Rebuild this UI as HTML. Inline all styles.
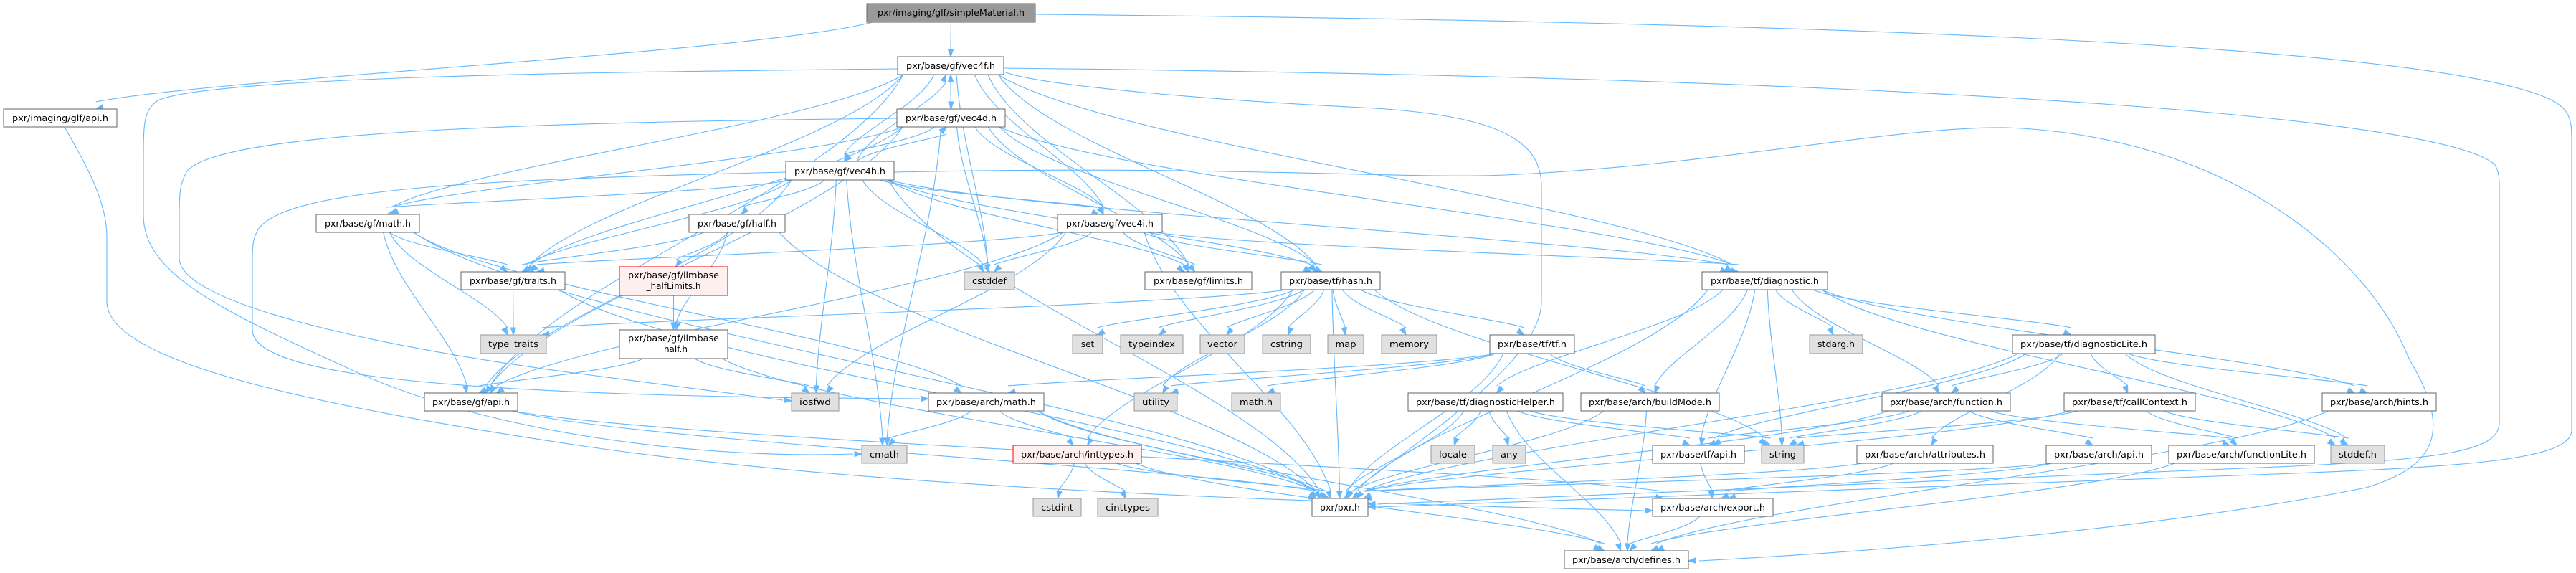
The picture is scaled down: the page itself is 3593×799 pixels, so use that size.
<!DOCTYPE html>
<html><head><meta charset="utf-8"><style>
html,body{margin:0;padding:0;background:#fff;width:3593px;height:799px;overflow:hidden}
svg{display:block}
text{font-family:"DejaVu Sans","Liberation Sans",sans-serif;font-size:12px;fill:#000}
</style></head><body>
<svg id="g" width="3593" height="799" viewBox="0 0 3593 799" xmlns="http://www.w3.org/2000/svg">
<g id="edges" fill="none" stroke="#63b8ff" stroke-width="1.1"></g>
<g id="arrows" fill="#63b8ff" stroke="#63b8ff" stroke-width="1"></g>
<g id="nodes">
<rect x="1209" y="5" width="235" height="26" fill="#999" stroke="#666"/><text x="1326.5" y="22" text-anchor="middle" textLength="205" lengthAdjust="spacingAndGlyphs">pxr/imaging/glf/simpleMaterial.h</text>
<rect x="5" y="152" width="158" height="25" fill="#fff" stroke="#666"/><text x="84" y="169" text-anchor="middle" textLength="134" lengthAdjust="spacingAndGlyphs">pxr/imaging/glf/api.h</text>
<rect x="1252" y="79" width="148" height="25" fill="#fff" stroke="#666"/><text x="1326" y="96" text-anchor="middle" textLength="124" lengthAdjust="spacingAndGlyphs">pxr/base/gf/vec4f.h</text>
<rect x="1251" y="152" width="151" height="25" fill="#fff" stroke="#666"/><text x="1326.5" y="169" text-anchor="middle" textLength="127" lengthAdjust="spacingAndGlyphs">pxr/base/gf/vec4d.h</text>
<rect x="1096" y="225" width="151" height="26" fill="#fff" stroke="#666"/><text x="1171.5" y="243" text-anchor="middle" textLength="127" lengthAdjust="spacingAndGlyphs">pxr/base/gf/vec4h.h</text>
<rect x="441" y="299" width="144" height="25" fill="#fff" stroke="#666"/><text x="513" y="316" text-anchor="middle" textLength="120" lengthAdjust="spacingAndGlyphs">pxr/base/gf/math.h</text>
<rect x="961" y="299" width="134" height="25" fill="#fff" stroke="#666"/><text x="1028" y="316" text-anchor="middle" textLength="110" lengthAdjust="spacingAndGlyphs">pxr/base/gf/half.h</text>
<rect x="1475" y="299" width="146" height="25" fill="#fff" stroke="#666"/><text x="1548" y="316" text-anchor="middle" textLength="122" lengthAdjust="spacingAndGlyphs">pxr/base/gf/vec4i.h</text>
<rect x="2374" y="379" width="175" height="25" fill="#fff" stroke="#666"/><text x="2461.5" y="396" text-anchor="middle" textLength="151" lengthAdjust="spacingAndGlyphs">pxr/base/tf/diagnostic.h</text>
<rect x="643" y="379" width="145" height="25" fill="#fff" stroke="#666"/><text x="715.5" y="396" text-anchor="middle" textLength="121" lengthAdjust="spacingAndGlyphs">pxr/base/gf/traits.h</text>
<rect x="864" y="372" width="151" height="40" fill="#fff0f0" stroke="#f00"/><text x="939.5" y="388" text-anchor="middle" textLength="127" lengthAdjust="spacingAndGlyphs">pxr/base/gf/ilmbase</text><text x="939.5" y="403" text-anchor="middle">_halfLimits.h</text>
<rect x="1345" y="379" width="70" height="25" fill="#e0e0e0" stroke="#999"/><text x="1380" y="396" text-anchor="middle" textLength="48" lengthAdjust="spacingAndGlyphs">cstddef</text>
<rect x="1597" y="379" width="149" height="25" fill="#fff" stroke="#666"/><text x="1671.5" y="396" text-anchor="middle" textLength="125" lengthAdjust="spacingAndGlyphs">pxr/base/gf/limits.h</text>
<rect x="1787" y="379" width="138" height="25" fill="#fff" stroke="#666"/><text x="1856" y="396" text-anchor="middle" textLength="116" lengthAdjust="spacingAndGlyphs">pxr/base/tf/hash.h</text>
<rect x="670" y="467" width="92" height="26" fill="#e0e0e0" stroke="#999"/><text x="716" y="484" text-anchor="middle" textLength="70" lengthAdjust="spacingAndGlyphs">type_traits</text>
<rect x="864" y="460" width="151" height="40" fill="#fff" stroke="#666"/><text x="939.5" y="476" text-anchor="middle" textLength="127" lengthAdjust="spacingAndGlyphs">pxr/base/gf/ilmbase</text><text x="939.5" y="491" text-anchor="middle">_half.h</text>
<rect x="1496" y="467" width="42" height="26" fill="#e0e0e0" stroke="#999"/><text x="1517" y="484" text-anchor="middle">set</text>
<rect x="1563" y="467" width="87" height="26" fill="#e0e0e0" stroke="#999"/><text x="1606.5" y="484" text-anchor="middle" textLength="65" lengthAdjust="spacingAndGlyphs">typeindex</text>
<rect x="1674" y="467" width="62" height="26" fill="#e0e0e0" stroke="#999"/><text x="1705" y="484" text-anchor="middle" textLength="42" lengthAdjust="spacingAndGlyphs">vector</text>
<rect x="1761" y="467" width="67" height="26" fill="#e0e0e0" stroke="#999"/><text x="1794.5" y="484" text-anchor="middle" textLength="45" lengthAdjust="spacingAndGlyphs">cstring</text>
<rect x="1852" y="467" width="50" height="26" fill="#e0e0e0" stroke="#999"/><text x="1877" y="484" text-anchor="middle" textLength="29" lengthAdjust="spacingAndGlyphs">map</text>
<rect x="1927" y="467" width="77" height="26" fill="#e0e0e0" stroke="#999"/><text x="1965.5" y="484" text-anchor="middle" textLength="55" lengthAdjust="spacingAndGlyphs">memory</text>
<rect x="2078" y="467" width="118" height="26" fill="#fff" stroke="#666"/><text x="2137" y="484" text-anchor="middle" textLength="96" lengthAdjust="spacingAndGlyphs">pxr/base/tf/tf.h</text>
<rect x="2524" y="467" width="74" height="26" fill="#e0e0e0" stroke="#999"/><text x="2561" y="484" text-anchor="middle" textLength="52" lengthAdjust="spacingAndGlyphs">stdarg.h</text>
<rect x="2807" y="467" width="199" height="26" fill="#fff" stroke="#666"/><text x="2906.5" y="484" text-anchor="middle" textLength="177" lengthAdjust="spacingAndGlyphs">pxr/base/tf/diagnosticLite.h</text>
<rect x="592" y="548" width="130" height="25" fill="#fff" stroke="#666"/><text x="657" y="565" text-anchor="middle" textLength="108" lengthAdjust="spacingAndGlyphs">pxr/base/gf/api.h</text>
<rect x="1104" y="548" width="66" height="25" fill="#e0e0e0" stroke="#999"/><text x="1137" y="565" text-anchor="middle" textLength="44" lengthAdjust="spacingAndGlyphs">iosfwd</text>
<rect x="1295" y="548" width="161" height="25" fill="#fff" stroke="#666"/><text x="1375.5" y="565" text-anchor="middle" textLength="139" lengthAdjust="spacingAndGlyphs">pxr/base/arch/math.h</text>
<rect x="1582" y="548" width="60" height="25" fill="#e0e0e0" stroke="#999"/><text x="1612" y="565" text-anchor="middle" textLength="38" lengthAdjust="spacingAndGlyphs">utility</text>
<rect x="1718" y="548" width="68" height="25" fill="#e0e0e0" stroke="#999"/><text x="1752" y="565" text-anchor="middle" textLength="46" lengthAdjust="spacingAndGlyphs">math.h</text>
<rect x="1964" y="548" width="216" height="25" fill="#fff" stroke="#666"/><text x="2072" y="565" text-anchor="middle" textLength="194" lengthAdjust="spacingAndGlyphs">pxr/base/tf/diagnosticHelper.h</text>
<rect x="2205" y="548" width="193" height="25" fill="#fff" stroke="#666"/><text x="2301.5" y="565" text-anchor="middle" textLength="171" lengthAdjust="spacingAndGlyphs">pxr/base/arch/buildMode.h</text>
<rect x="2625" y="548" width="179" height="25" fill="#fff" stroke="#666"/><text x="2714.5" y="565" text-anchor="middle" textLength="157" lengthAdjust="spacingAndGlyphs">pxr/base/arch/function.h</text>
<rect x="2879" y="548" width="183" height="25" fill="#fff" stroke="#666"/><text x="2970.5" y="565" text-anchor="middle" textLength="161" lengthAdjust="spacingAndGlyphs">pxr/base/tf/callContext.h</text>
<rect x="3239" y="548" width="159" height="25" fill="#fff" stroke="#666"/><text x="3318.5" y="565" text-anchor="middle" textLength="137" lengthAdjust="spacingAndGlyphs">pxr/base/arch/hints.h</text>
<rect x="1202" y="621" width="63" height="25" fill="#e0e0e0" stroke="#999"/><text x="1233.5" y="638" text-anchor="middle" textLength="41" lengthAdjust="spacingAndGlyphs">cmath</text>
<rect x="1413" y="621" width="179" height="25" fill="#fff0f0" stroke="#f00"/><text x="1502.5" y="638" text-anchor="middle" textLength="157" lengthAdjust="spacingAndGlyphs">pxr/base/arch/inttypes.h</text>
<rect x="1996" y="621" width="61" height="25" fill="#e0e0e0" stroke="#999"/><text x="2026.5" y="638" text-anchor="middle" textLength="39" lengthAdjust="spacingAndGlyphs">locale</text>
<rect x="2082" y="621" width="46" height="25" fill="#e0e0e0" stroke="#999"/><text x="2105" y="638" text-anchor="middle" textLength="24" lengthAdjust="spacingAndGlyphs">any</text>
<rect x="2305" y="621" width="128" height="25" fill="#fff" stroke="#666"/><text x="2369" y="638" text-anchor="middle" textLength="106" lengthAdjust="spacingAndGlyphs">pxr/base/tf/api.h</text>
<rect x="2457" y="621" width="59" height="25" fill="#e0e0e0" stroke="#999"/><text x="2486.5" y="638" text-anchor="middle" textLength="37" lengthAdjust="spacingAndGlyphs">string</text>
<rect x="2590" y="621" width="190" height="25" fill="#fff" stroke="#666"/><text x="2685" y="638" text-anchor="middle" textLength="168" lengthAdjust="spacingAndGlyphs">pxr/base/arch/attributes.h</text>
<rect x="2854" y="621" width="147" height="25" fill="#fff" stroke="#666"/><text x="2927.5" y="638" text-anchor="middle" textLength="125" lengthAdjust="spacingAndGlyphs">pxr/base/arch/api.h</text>
<rect x="3025" y="621" width="203" height="25" fill="#fff" stroke="#666"/><text x="3126.5" y="638" text-anchor="middle" textLength="181" lengthAdjust="spacingAndGlyphs">pxr/base/arch/functionLite.h</text>
<rect x="3251" y="621" width="75" height="25" fill="#e0e0e0" stroke="#999"/><text x="3288.5" y="638" text-anchor="middle" textLength="53" lengthAdjust="spacingAndGlyphs">stddef.h</text>
<rect x="1441" y="695" width="67" height="25" fill="#e0e0e0" stroke="#999"/><text x="1474.5" y="712" text-anchor="middle" textLength="45" lengthAdjust="spacingAndGlyphs">cstdint</text>
<rect x="1531" y="695" width="84" height="25" fill="#e0e0e0" stroke="#999"/><text x="1573" y="712" text-anchor="middle" textLength="62" lengthAdjust="spacingAndGlyphs">cinttypes</text>
<rect x="1830" y="695" width="78" height="25" fill="#fff" stroke="#666"/><text x="1869" y="712" text-anchor="middle" textLength="56" lengthAdjust="spacingAndGlyphs">pxr/pxr.h</text>
<rect x="2305" y="695" width="168" height="25" fill="#fff" stroke="#666"/><text x="2389" y="712" text-anchor="middle" textLength="146" lengthAdjust="spacingAndGlyphs">pxr/base/arch/export.h</text>
<rect x="2182" y="768" width="173" height="25" fill="#fff" stroke="#666"/><text x="2268.5" y="785" text-anchor="middle" textLength="151" lengthAdjust="spacingAndGlyphs">pxr/base/arch/defines.h</text>
</g>
</svg>
<script>
var N={A:[1209,1444,5,26],B:[5,163,152,25],C:[1252,1400,79,25],D:[1251,1402,152,25],E:[1096,1247,225,26],F:[441,585,299,25],G:[961,1095,299,25],H:[1475,1621,299,25],I:[2374,2549,379,25],J:[643,788,379,25],K:[864,1015,372,40],L:[1345,1415,379,25],M:[1597,1746,379,25],Nh:[1787,1925,379,25],O:[670,762,467,26],P:[864,1015,460,40],Q:[1496,1538,467,26],R:[1563,1650,467,26],S:[1674,1736,467,26],T:[1761,1828,467,26],U:[1852,1902,467,26],V:[1927,2004,467,26],W:[2078,2196,467,26],X:[2524,2598,467,26],Y:[2807,3006,467,26],Z:[592,722,548,25],a:[1104,1170,548,25],b:[1295,1456,548,25],c:[1582,1642,548,25],d:[1718,1786,548,25],e:[1964,2180,548,25],f:[2205,2398,548,25],g:[2625,2804,548,25],h:[2879,3062,548,25],i:[3239,3398,548,25],j:[1202,1265,621,25],k:[1413,1592,621,25],l:[1996,2057,621,25],m:[2082,2128,621,25],n:[2305,2433,621,25],o:[2457,2516,621,25],p:[2590,2780,621,25],q:[2854,3001,621,25],r:[3025,3228,621,25],s:[3251,3326,621,25],t:[1441,1508,695,25],u:[1531,1615,695,25],v:[1830,1908,695,25],w:[2305,2473,695,25],x:[2182,2355,768,25]};
var E=[["A","B"],["A","C"],
["C","D"],["C","E"],["C","F"],["C","J"],["C","Z"],["C","L"],["C","M"],["C","Nh"],["C","I"],["C","H"],
["D","C"],["D","E"],["D","F"],["D","J"],["D","Z"],["D","L"],["D","M"],["D","Nh"],["D","I"],["D","H"],["D","j"],
["E","C"],["E","D"],["E","F"],["E","G"],["E","J"],["E","Z"],["E","L"],["E","M"],["E","Nh"],["E","I"],["E","H"],["E","a"],["E","j"],["E","v"],
["F","J"],["F","O"],["F","Z"],["F","b"],["F","v"],
["G","K"],["G","P"],["G","J"],["G","v"],["K","P"],["P","Z"],["P","a"],["P","v"],
["H","L"],["H","M"],["H","Nh"],["H","I"],["H","J"],["H","Z"],["H","a"],["H","v"],
["J","O"],["J","v"],["Z","v"],["Z","w"],
["Nh","O"],["Nh","Q"],["Nh","R"],["Nh","S"],["Nh","T"],["Nh","U"],["Nh","V"],["Nh","W"],["Nh","c"],["Nh","k"],["Nh","v"],["Nh","o"],
["W","f"],["W","d"],["W","c"],["W","b"],["W","v"],
["I","X"],["I","Y"],["I","e"],["I","f"],["I","g"],["I","n"],["I","o"],["I","s"],["I","i"],["I","v"],
["Y","g"],["Y","h"],["Y","i"],["Y","s"],["Y","n"],["Y","p"],["Y","v"],
["e","l"],["e","m"],["e","n"],["e","o"],["e","v"],["e","x"],
["f","v"],["f","x"],["b","j"],["b","k"],["b","v"],["b","x"],
["k","t"],["k","u"],["k","x"],["k","v"],
["g","n"],["g","q"],["g","r"],["g","o"],["g","v"],
["h","r"],["h","s"],["h","v"],["h","o"],
["n","w"],["w","x"],["p","v"],["p","w"],["q","w"],["q","v"],["r","x"],["i","x"]];
var eg=document.getElementById("edges"),ag=document.getElementById("arrows"),NS="http://www.w3.org/2000/svg";
function arrow(px,py,x,y){var dx=x-px,dy=y-py,l=Math.hypot(dx,dy)||1;dx/=l;dy/=l;var L=10,W=3.6;var bx=x-dx*L,by=y-dy*L;
var p=document.createElementNS(NS,"polygon");p.setAttribute("points",x+","+y+" "+(bx-dy*W)+","+(by+dx*W)+" "+(bx+dy*W)+","+(by-dx*W));ag.appendChild(p);}
function path(d,c2x,c2y,ex,ey){var p=document.createElementNS(NS,"path");p.setAttribute("d",d);eg.appendChild(p);arrow(c2x,c2y,ex,ey);}
function cl(v,a,b){return Math.max(a,Math.min(b,v));}
E.forEach(function(e){var s=N[e[0]],t=N[e[1]];var scx=(s[0]+s[1])/2,tcx=(t[0]+t[1])/2;var sx,sy,tx,ty;
var down=t[2]>s[2];
sx=cl(scx+(tcx-scx)*0.15,s[0]+8,s[1]-8);tx=cl(tcx+(scx-tcx)*0.04,t[0]+6,t[1]-6);
if(down){sy=s[2]+s[3];ty=t[2];}else{sy=s[2];ty=t[2]+t[3];}
var dy=ty-sy,ex=tx,ey=ty-(down?10:-10);
var c1x=sx+(tx-sx)*0.15,c1y=sy+dy*0.35,c2x=tx-(tx-sx)*0.15,c2y=ty-dy*0.35;
path("M"+sx+","+sy+" C"+c1x+","+c1y+" "+c2x+","+c2y+" "+ex+","+ey,c2x,c2y,tx,ty);});
// special long routes
path("M1444,20 C2500,30 3400,60 3560,140 C3587,155 3587,170 3587,200 L3587,600 C3587,640 3450,650 3200,660 L1920,707",2000,705,1908,707);
path("M1400,95 C2800,110 3420,170 3480,230 C3486,240 3486,250 3486,260 L3486,590 C3486,630 3400,640 3200,650 L1920,703",2000,700,1908,703);
path("M1247,240 C1700,230 1950,250 2100,244 C2400,230 2650,175 2800,178 C3100,190 3300,350 3360,500 C3420,600 3400,650 3300,680 C3000,740 2600,770 2370,782",2400,780,2355,782);
path("M1252,96 C900,100 300,105 220,140 C200,155 200,170 200,230 L200,300 C200,380 300,430 500,520 C700,610 1000,640 1190,633",1150,633,1202,633);
path("M1251,165 C800,170 300,180 260,240 C252,255 250,265 250,300 L250,360 C250,420 500,480 800,520 C950,540 1040,552 1092,558",1050,553,1104,559);
path("M1096,240 C700,250 400,260 360,320 C354,330 352,340 352,360 L352,460 C352,520 600,540 900,550 C1100,556 1200,555 1283,556",1200,556,1295,556);
path("M90,177 C120,230 149,280 149,330 L149,420 C149,500 400,560 800,620 C1200,680 1800,700 2293,712",2200,711,2305,712);
path("M1400,100 C1450,120 1700,140 1900,150 C2100,160 2150,200 2150,260 L2150,420 C2150,500 2000,600 1880,690",1890,680,1875,695);
</script>
</body></html>
